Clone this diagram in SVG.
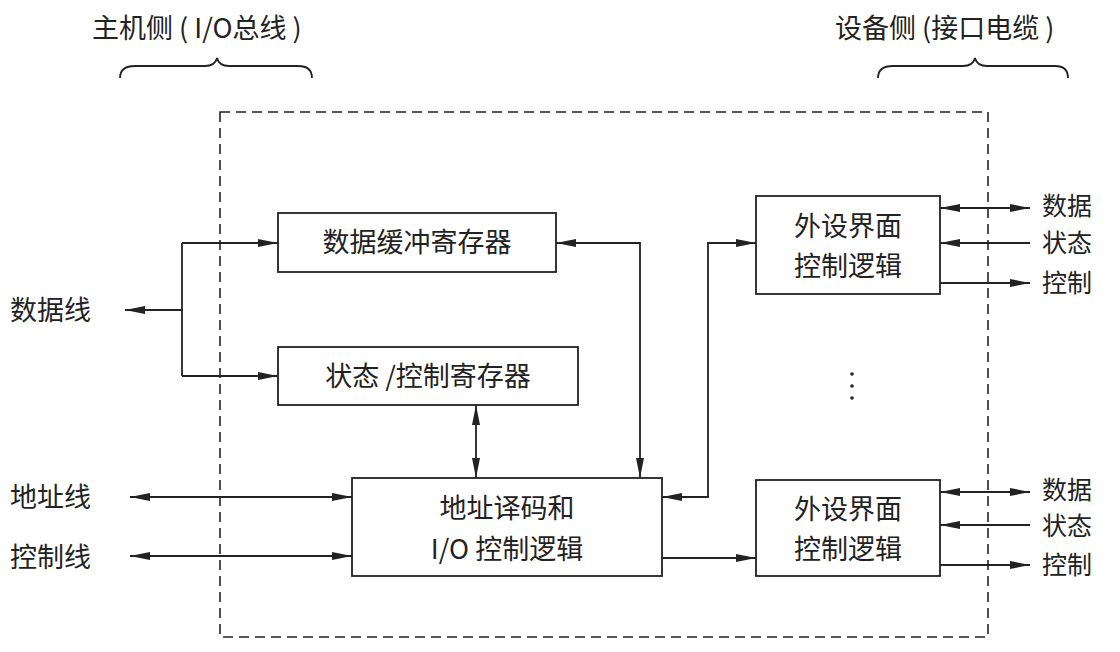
<svg xmlns="http://www.w3.org/2000/svg" width="1120" height="652" viewBox="0 0 1120 652">
<style>
text{font-family:"Noto Sans CJK SC","Liberation Sans",sans-serif;font-size:27px;fill:#222}
.s{font-size:25px}
.b{fill:#fff;stroke:#222;stroke-width:1.8}
.l{fill:none;stroke:#222;stroke-width:1.8}
</style>
<defs>
<marker id="a" viewBox="0 0 20 10" refX="20" refY="5" markerWidth="20" markerHeight="10" markerUnits="userSpaceOnUse" orient="auto-start-reverse"><path d="M0,1L20,5L0,9z" fill="#222"/></marker>
</defs>
<rect width="1120" height="652" fill="#fff"/>
<g id="labels">
<text x="92" y="38">主机侧 ( I/O总线 )</text>
<text x="835" y="38">设备侧 (接口电缆 )</text>
<path class="l" d="M120,78 Q120,66 135,66 L205,66 Q215,66 217,58 Q219,66 229,66 L298,66 Q312,66 312,78"/>
<path class="l" d="M878,78 Q878,66 893,66 L963,66 Q973,66 975,58 Q977,66 987,66 L1055,66 Q1068,66 1068,78"/>
<rect x="220" y="112" width="768" height="525" fill="none" stroke="#222" stroke-width="1.6" stroke-dasharray="10,6"/>
<text x="10" y="320">数据线</text>
<text x="10" y="507">地址线</text>
<text x="10" y="567">控制线</text>
<text class="s" x="1042" y="215">数据</text><text class="s" x="1042" y="252">状态</text><text class="s" x="1042" y="292">控制</text>
<text class="s" x="1042" y="499">数据</text><text class="s" x="1042" y="535">状态</text><text class="s" x="1042" y="574">控制</text>
<circle cx="852" cy="374" r="1.8" fill="#222"/><circle cx="852" cy="386" r="1.8" fill="#222"/><circle cx="852" cy="398" r="1.8" fill="#222"/>
</g>
<g id="n1"><rect class="b" x="278" y="213" width="278" height="59"/><text x="417" y="252" text-anchor="middle">数据缓冲寄存器</text></g>
<g id="n2"><rect class="b" x="278" y="347" width="300" height="58"/><text x="428" y="386" text-anchor="middle">状态 /控制寄存器</text></g>
<g id="n3"><rect class="b" x="352" y="478" width="310" height="98"/><text x="507" y="518" text-anchor="middle">地址译码和</text><text x="507" y="559" text-anchor="middle">I/O 控制逻辑</text></g>
<g id="n4"><rect class="b" x="756" y="196" width="184" height="98"/><text x="848" y="236" text-anchor="middle">外设界面</text><text x="848" y="276" text-anchor="middle">控制逻辑</text></g>
<g id="n5"><rect class="b" x="756" y="480" width="184" height="96"/><text x="848" y="519" text-anchor="middle">外设界面</text><text x="848" y="559" text-anchor="middle">控制逻辑</text></g>
<g id="connectors" class="l">
<path class="l" d="M182,310 L125,310" marker-end="url(#a)"/>
<path class="l" d="M182,243 L182,376"/>
<path class="l" d="M182,243 L278,243" marker-end="url(#a)"/>
<path class="l" d="M182,376 L278,376" marker-end="url(#a)"/>
<path class="l" d="M556,243 L640,243 L640,478" marker-start="url(#a)" marker-end="url(#a)"/>
<path class="l" d="M476,405 L476,478" marker-start="url(#a)" marker-end="url(#a)"/>
<path class="l" d="M130,497 L352,497" marker-start="url(#a)" marker-end="url(#a)"/>
<path class="l" d="M130,556 L352,556" marker-start="url(#a)" marker-end="url(#a)"/>
<path class="l" d="M662,497 L708,497 L708,243 L756,243" marker-start="url(#a)" marker-end="url(#a)"/>
<path class="l" d="M662,558 L756,558" marker-end="url(#a)"/>
<path class="l" d="M940,208 L1030,208" marker-start="url(#a)" marker-end="url(#a)"/>
<path class="l" d="M1030,243 L940,243" marker-end="url(#a)"/>
<path class="l" d="M940,283 L1030,283" marker-end="url(#a)"/>
<path class="l" d="M940,492 L1030,492" marker-start="url(#a)" marker-end="url(#a)"/>
<path class="l" d="M1030,525 L940,525" marker-end="url(#a)"/>
<path class="l" d="M940,565 L1030,565" marker-end="url(#a)"/>
</g>
</svg>
